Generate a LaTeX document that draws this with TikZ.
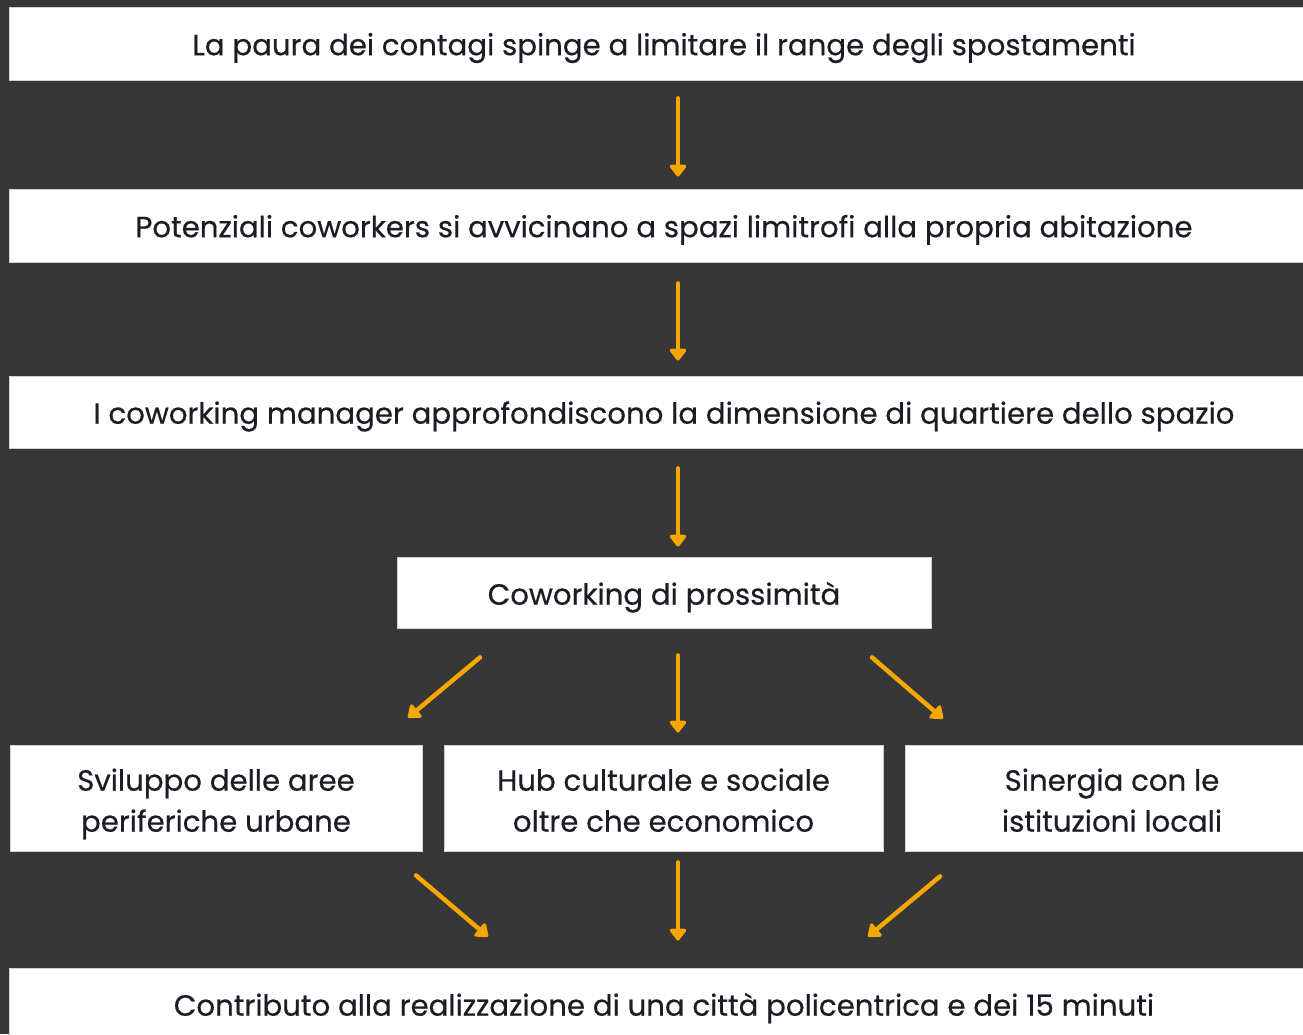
\documentclass[tikz,border=0pt]{standalone}
\usepackage{fontspec}
\setmainfont{Poppins}[FakeBold=0.5]
\usetikzlibrary{arrows.meta,calc}
\definecolor{bg}{HTML}{373737}
\definecolor{org}{HTML}{F4A700}
\definecolor{txt}{HTML}{1C1C26}
\begin{document}
\begin{tikzpicture}[x=1pt,y=-1pt,
  box/.style={draw=gray!35,line width=0.8pt,fill=white,inner sep=0pt},
  lbl/.style={text=txt,inner sep=0pt,align=center,font=\fontsize{29.2}{41}\selectfont},
  arr/.style={draw=org,line width=4.5pt,line cap=round,-{Triangle[width=19pt,length=13pt,round]}}]
\useasboundingbox (0,0) rectangle (1303,1034);
\clip (0,0) rectangle (1303,1034);
\fill[bg] (0,0) rectangle (1303,1034);

% boxes
\node[box,minimum width=1309pt,minimum height=73pt] (b1) at (664,43.5) {};
\node[box,minimum width=1309pt,minimum height=73pt] (b2) at (664,225.5) {};
\node[box,minimum width=1309pt,minimum height=72pt] (b3) at (664,412) {};
\node[box,minimum width=534pt,minimum height=71pt] (b4) at (664,592.5) {};
\node[box,minimum width=412pt,minimum height=106pt] (b5a) at (216,798) {};
\node[box,minimum width=439pt,minimum height=106pt] (b5b) at (663.5,798) {};
\node[box,minimum width=414pt,minimum height=106pt] (b5c) at (1112,798) {};
\node[box,minimum width=1309pt,minimum height=72pt] (b6) at (664,1004) {};

% texts
\node[lbl] (t1) at ($(b1.center)+(0,3.5)$)
  {\strut La paura dei contagi spinge a limitare il range degli spostamenti};
\node[lbl] (t2) at ($(b2.center)+(0,3.5)$)
  {\strut Potenziali coworkers si avvicinano a spazi limitrofi alla propria abitazione};
\node[lbl] (t3) at ($(b3.center)+(0,3.5)$)
  {\strut I coworking manager approfondiscono la dimensione di quartiere dello spazio};
\node[lbl] (t4) at ($(b4.center)+(0,4)$)
  {\strut Coworking di prossimità};
\node[lbl] (t5a) at ($(b5a.center)+(0,5)$)
  {\strut Sviluppo delle aree\\\strut periferiche urbane};
\node[lbl] (t5b) at ($(b5b.center)+(0,5)$)
  {\strut Hub culturale e sociale\\\strut oltre che economico};
\node[lbl] (t5c) at ($(b5c.center)+(0,5)$)
  {\strut Sinergia con le\\\strut istituzioni locali};
\node[lbl] (t6) at ($(b6.center)+(0,3.5)$)
  {\strut Contributo alla realizzazione di una città policentrica e dei 15 minuti};

% connectors
\draw[arr] ($(b1.south)+(14,18)$) -- ($(b2.north)+(14,-12)$);
\draw[arr] ($(b2.south)+(14,21)$) -- ($(b3.north)+(14,-15)$);
\draw[arr] ($(b3.south)+(14,20)$) -- ($(b4.north)+(14,-10)$);
\draw[arr] ($(b4.south)+(14,27)$) -- ($(b5b.north)+(14.5,-12)$);
\draw[arr] ($(b4.south)+(-184,29)$) -- ($(b5a.north)+(192,-27)$);
\draw[arr] ($(b4.south)+(208,29)$) -- ($(b5c.north)+(-169,-26)$);
\draw[arr] ($(b5a.south)+(200,24)$) -- ($(b6.north)+(-176,-31)$);
\draw[arr] ($(b5b.south)+(14.5,11)$) -- ($(b6.north)+(14,-27)$);
\draw[arr] ($(b5c.south)+(-172,25)$) -- ($(b6.north)+(204,-31)$);
\end{tikzpicture}
\end{document}
